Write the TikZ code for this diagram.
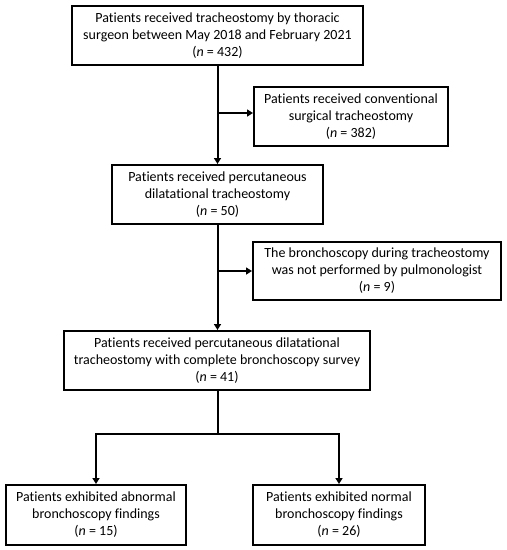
\documentclass[tikz,border=0pt]{standalone}
\usepackage{fontspec}
\setmainfont{Carlito}[Ligatures=NoCommon]
\usetikzlibrary{arrows.meta}
\begin{document}
\begin{tikzpicture}[x=1pt,y=-1pt,
  box/.style={draw,line width=2pt,align=center,inner sep=0pt,font=\fontsize{14}{17}\selectfont},
  arr/.style={line width=2pt,-{Triangle[length=6pt,width=7pt]}},
  ln/.style={line width=2pt}]
\useasboundingbox (0,0) rectangle (507,550);
\node[box,minimum width=291pt,minimum height=59pt] (b1) at (217.5,35.5) {Patients received tracheostomy by thoracic\\surgeon between May 2018 and February 2021\\(\textit{n} = 432)};
\node[box,minimum width=194pt,minimum height=59pt] (b2) at (351,116.5) {Patients received conventional\\surgical tracheostomy\\(\textit{n} = 382)};
\node[box,minimum width=211pt,minimum height=59pt] (b3) at (217.5,194.5) {Patients received percutaneous\\dilatational tracheostomy\\(\textit{n} = 50)};
\node[box,minimum width=248pt,minimum height=58pt] (b4) at (377,271) {The bronchoscopy during tracheostomy\\was not performed by pulmonologist\\(\textit{n} = 9)};
\node[box,minimum width=306pt,minimum height=59pt] (b5) at (217,360.5) {Patients received percutaneous dilatational\\tracheostomy with complete bronchoscopy survey\\(\textit{n} = 41)};
\node[box,minimum width=180pt,minimum height=60pt] (b6) at (96,515) {Patients exhibited abnormal\\bronchoscopy findings\\(\textit{n} = 15)};
\node[box,minimum width=172pt,minimum height=60pt] (b7) at (339,515) {Patients exhibited normal\\bronchoscopy findings\\(\textit{n} = 26)};
\coordinate (j1) at (217.5,113);
\coordinate (j2) at (217.5,271);
\coordinate (s) at (217.5,434);
\draw[arr] (b1.south) -- (b3.north);
\draw[arr] (j1) -- (j1 -| b2.west);
\draw[arr] (b3.south) -- (b5.north -| b3.south);
\draw[arr] (j2) -- (b4.west);
\draw[ln] (b5.south -| s) -- (s);
\draw[arr] (s) -- (s -| b6.north) -- (b6.north);
\draw[arr] (s) -- (s -| b7.north) -- (b7.north);
\end{tikzpicture}
\end{document}
